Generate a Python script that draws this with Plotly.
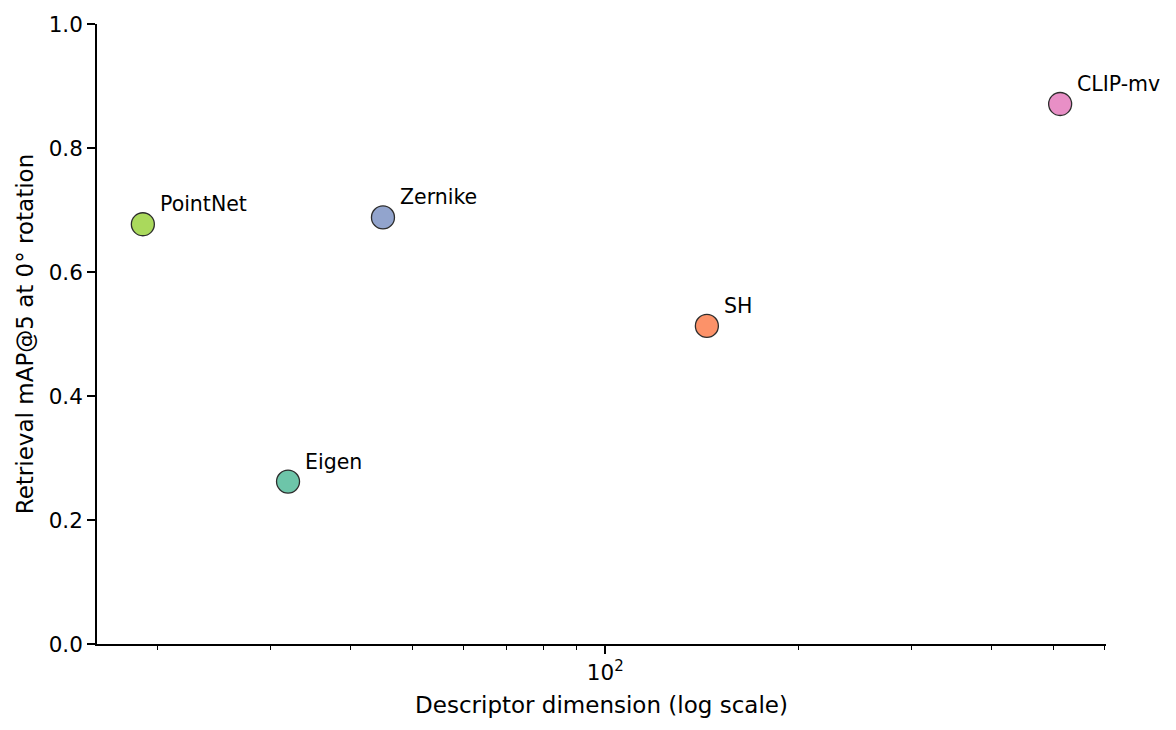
import numpy as np
import plotly.graph_objects as go

# データ
methods = ["Eigen", "SH", "Zernike", "CLIP-mv", "PointNet"]
dims = [32, 144, 45, 512, 19]
map5 = [0.262, 0.513, 0.688, 0.871, 0.677]
colors = ["#66c2a5", "#fc8d62", "#8da0cb", "#e78ac3", "#a6d854"]

y_ticks = [0.0, 0.2, 0.4, 0.6, 0.8, 1.0]
x_major = [100]
x_major_text = ["10<sup>2</sup>"]
x_minor = [20, 30, 40, 50, 60, 70, 80, 90, 200, 300, 400, 500, 600]

FONT = "DejaVu Sans"

# matplotlib風の5%マージン（対数空間）
lo, hi = np.log10(min(dims)), np.log10(max(dims))
pad = 0.05 * (hi - lo)

fig = go.Figure()
fig.add_trace(go.Scatter(
    x=dims, y=map5, mode="markers",
    marker=dict(size=23, color=colors, opacity=0.95,
                line=dict(width=1.3, color="#222222")),
    showlegend=False, hoverinfo="text", text=methods,
))

for m, d, v in zip(methods, dims, map5):
    fig.add_annotation(x=np.log10(d), y=v, text=m, showarrow=False,
                       xanchor="left", yanchor="middle", xshift=15, yshift=20,
                       font=dict(family=FONT, size=20.5, color="black"))

# ページ本体の8pxオフセット分を補正
fig.update_layout(
    width=1176, height=730,
    margin=dict(l=89, r=78, t=16, b=94),
    plot_bgcolor="white", paper_bgcolor="white",
    font=dict(family=FONT, size=21, color="black"),
)
fig.update_xaxes(
    type="log", range=[lo - pad, hi + pad],
    tickvals=x_major, ticktext=x_major_text,
    ticks="outside", ticklen=8, tickwidth=1.6, tickcolor="black",
    minor=dict(tickvals=x_minor, ticks="outside", ticklen=4.5, tickwidth=1.2,
               tickcolor="black", showgrid=False),
    showline=True, linecolor="black", linewidth=1.6,
    showgrid=False, zeroline=False, automargin="bottom",
    tickfont=dict(size=21.5),
    title=dict(text="Descriptor dimension (log scale)", font=dict(size=23), standoff=13),
)
fig.update_yaxes(
    range=[0, 1], tickvals=y_ticks, tickformat=".1f",
    ticks="outside", ticklen=8, tickwidth=1.6, tickcolor="black",
    showline=True, linecolor="black", linewidth=1.6,
    showgrid=False, zeroline=False, automargin="left",
    tickfont=dict(size=21.5),
    title=dict(text="Retrieval mAP@5 at 0° rotation", font=dict(size=23), standoff=9),
)

fig.write_html("out.html")
